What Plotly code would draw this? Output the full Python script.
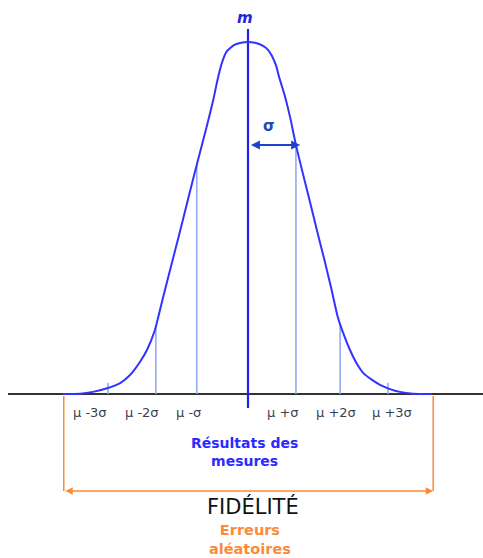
import numpy as np
import plotly.graph_objects as go

# Distribution curve: abscissa in units of sigma around the mean, ordinate relative to the peak
curve_x = [-3.94, -3.57, -3.30, -2.98, -2.72, -2.51, -2.30, -2.15, -1.98, -1.81, -1.62,
           -1.45, -1.28, -1.09, -0.87, -0.74, -0.64, -0.55, -0.45, -0.30, -0.17, 0.0,
           0.17, 0.32, 0.43, 0.51, 0.60, 0.66, 0.79, 0.91, 1.02, 1.17, 1.32, 1.47,
           1.62, 1.77, 1.91, 2.04, 2.17, 2.32, 2.45, 2.64, 2.81, 3.02, 3.23,
           3.51, 3.91]
curve_y = [0.0, 0.001, 0.006, 0.017, 0.031, 0.054, 0.091, 0.125, 0.182, 0.273, 0.372,
           0.460, 0.551, 0.651, 0.764, 0.835, 0.898, 0.943, 0.974, 0.991, 0.997, 1.0,
           0.997, 0.989, 0.977, 0.960, 0.932, 0.901, 0.844, 0.778, 0.707, 0.625, 0.545,
           0.463, 0.384, 0.301, 0.219, 0.168, 0.125, 0.085, 0.060, 0.040, 0.026, 0.014,
           0.006, 0.001, 0.0]

# Reference marks mu +/- k sigma
mark_x = [-2.98, -1.96, -1.09, 1.02, 1.96, 2.98]
mark_labels = ["μ -3σ", "μ -2σ", "μ -σ", "μ +σ", "μ +2σ", "μ +3σ"]
mark_full = [False, True, True, True, True, False]   # full-height drop lines vs short ticks

# Span of the results (fidelity bracket), in sigma units
span_x = [-3.92, 3.94]

SX = 47.0    # pixels per sigma
SY = 352.0   # pixels per unit of height
W, H = 483, 558
X0_PX, Y0_PX = 248, 394

BLUE = "#3333ff"
LIGHT = "#94aaf2"
ORANGE = "#fa8a3c"
FONT = "DejaVu Sans"


def py(px):
    """Vertical pixel row -> data ordinate."""
    return (Y0_PX - px) / SY


fig = go.Figure()

# Baseline
fig.add_trace(go.Scatter(x=[(8 - X0_PX) / SX, (W - X0_PX) / SX], y=[0, 0], mode="lines",
                         line=dict(color="#333333", width=2), hoverinfo="skip"))

# Drop lines from the axis to the curve
seg_x, seg_y = [], []
for xm, full in zip(mark_x, mark_full):
    top = float(np.interp(xm, curve_x, curve_y)) if full else 0.032
    seg_x += [xm, xm, None]
    seg_y += [0, top, None]
fig.add_trace(go.Scatter(x=seg_x, y=seg_y, mode="lines",
                         line=dict(color=LIGHT, width=1.6), hoverinfo="skip"))

# Mean line
fig.add_trace(go.Scatter(x=[0, 0], y=[py(29), py(408)], mode="lines",
                         line=dict(color="#2020ee", width=2.2), hoverinfo="skip"))

# Curve
fig.add_trace(go.Scatter(x=curve_x, y=curve_y, mode="lines",
                         line=dict(color=BLUE, width=2, shape="spline", smoothing=0.5),
                         hoverinfo="skip"))

# Orange bracket verticals
fig.add_trace(go.Scatter(x=[span_x[0], span_x[0], None, span_x[1], span_x[1]],
                         y=[py(396), py(491), None, py(396), py(491)], mode="lines",
                         line=dict(color=ORANGE, width=1.5), hoverinfo="skip"))

ann = []
# Sigma arrow
ann.append(dict(x=1.11, y=py(145), ax=0.03, ay=py(145),
                xref="x", yref="y", axref="x", ayref="y", text="", showarrow=True,
                arrowhead=2, arrowside="end+start", arrowsize=1, arrowwidth=1.8,
                arrowcolor="#1f40d0"))
ann.append(dict(x=0.45, y=py(126), xref="x", yref="y", text="<b>σ</b>",
                showarrow=False, font=dict(family=FONT, size=15, color="#2148b8")))
ann.append(dict(x=-0.06, y=py(18), xref="x", yref="y", text="<b><i>m</i></b>",
                showarrow=False, font=dict(family=FONT, size=15, color="#2424e0")))

# Mark labels
offsets = [-18, -14, -8, -13, -4, 4]
for xm, lab, dx in zip(mark_x, mark_labels, offsets):
    ann.append(dict(x=xm, y=py(412), xref="x", yref="y", text=lab, xshift=dx,
                    showarrow=False, font=dict(family=FONT, size=13, color="#3a3f55")))

ann.append(dict(x=-0.08, y=py(452), xref="x", yref="y",
                text="<b>Résultats des<br>mesures</b>", showarrow=False,
                font=dict(family=FONT, size=14, color="#2b2bff")))

# Fidelity bracket arrow
ann.append(dict(x=span_x[1], y=py(491), ax=span_x[0], ay=py(491), xref="x", yref="y",
                axref="x", ayref="y", text="", showarrow=True, arrowhead=2,
                arrowside="end+start", arrowsize=1, arrowwidth=1.5, arrowcolor=ORANGE))
ann.append(dict(x=0.1, y=py(506), xref="x", yref="y", text="FIDÉLITÉ",
                showarrow=False, font=dict(family=FONT, size=21, color="#111111")))
ann.append(dict(x=0.04, y=py(539), xref="x", yref="y",
                text="<b>Erreurs<br>aléatoires</b>", showarrow=False,
                font=dict(family=FONT, size=14.5, color=ORANGE)))

fig.update_layout(
    width=W, height=H, margin=dict(l=0, r=0, t=0, b=0),
    paper_bgcolor="white", plot_bgcolor="white", showlegend=False,
    xaxis=dict(range=[-X0_PX / SX, (W - X0_PX) / SX], visible=False, fixedrange=True),
    yaxis=dict(range=[(Y0_PX - H) / SY, Y0_PX / SY], visible=False, fixedrange=True),
    annotations=ann,
)

fig.write_html("out.html")
